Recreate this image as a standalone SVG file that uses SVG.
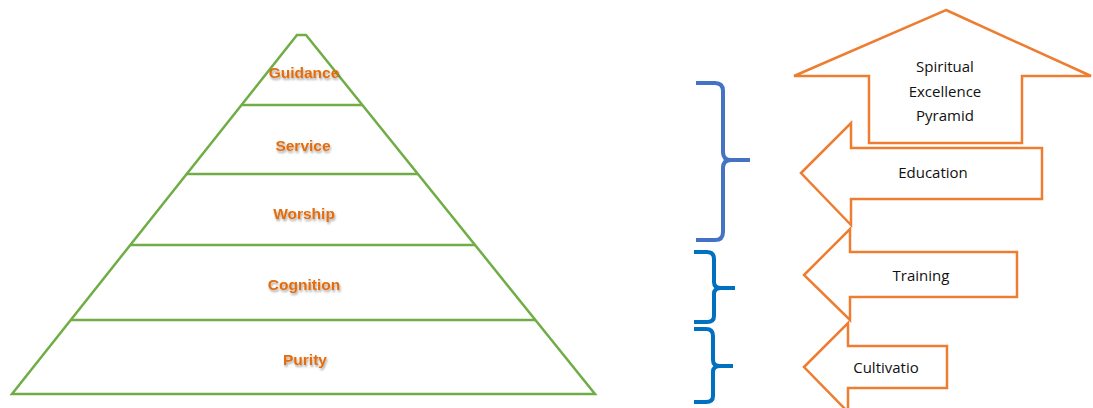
<svg xmlns="http://www.w3.org/2000/svg" width="1093" height="408" viewBox="0 0 1093 408">
<style>
.pyr{fill:none;stroke:#70AD47;stroke-width:2.5;stroke-linejoin:miter}
.lvl{font-family:"Liberation Sans",Arial,sans-serif;font-size:15.5px;font-weight:bold;fill:#E46C0A;text-anchor:middle}
.arr{fill:#fff;stroke:#ED7D31;stroke-width:2.5}
.lbl{font-family:"Open Sans","Liberation Sans",sans-serif;font-size:15px;fill:#111;text-anchor:middle}
.br{fill:none;stroke-width:4;stroke-linecap:butt;stroke-linejoin:round}
</style>
<defs>
<filter id="sh" x="-10%" y="-30%" width="120%" height="160%">
<feGaussianBlur in="SourceAlpha" stdDeviation="0.8"/>
<feOffset dx="1" dy="1.5" result="o"/>
<feFlood flood-color="#000" flood-opacity="0.35"/>
<feComposite in2="o" operator="in"/>
<feMerge><feMergeNode/><feMergeNode in="SourceGraphic"/></feMerge>
</filter>
</defs>
<g id="pyramid">
<polygon class="pyr" points="297,35 306,35 595,394 12,394"/>
<line class="pyr" x1="241" y1="105" x2="362" y2="105"/>
<line class="pyr" x1="186" y1="174" x2="418" y2="174"/>
<line class="pyr" x1="130" y1="245" x2="475" y2="245"/>
<line class="pyr" x1="71" y1="320" x2="536" y2="320"/>
</g>
<g id="levels" filter="url(#sh)">
<text class="lvl" x="304" y="78">Guidance</text>
<text class="lvl" x="303" y="151">Service</text>
<text class="lvl" x="304" y="219">Worship</text>
<text class="lvl" x="304" y="290">Cognition</text>
<text class="lvl" x="305" y="365">Purity</text>
</g>
<g id="braces">
<path class="br" stroke="#4472C4" d="M696,83 L715,83 Q723,83 723,91 L723,152 Q723,160 731,160 L750,160 M731,160 Q723,160 723,168 L723,232 Q723,240 715,240 L696,240"/>
<path class="br" stroke="#0070C0" d="M694,252 L707,252 Q714,252 714,259 L714,282 Q714,288 721,288 L735,288 M721,288 Q714,288 714,294 L714,316 Q714,322 707,322 L694,322"/>
<path class="br" stroke="#0070C0" d="M694,329 L706,329 Q713,329 713,336 L713,360 Q713,366 720,366 L733,366 M720,366 Q713,366 713,372 L713,396 Q713,402 706,402 L694,402"/>
</g>
<g id="arrow-up">
<polygon class="arr" points="946,10 1091,76 1022,76 1022,143 869,143 869,76 794,76"/>
<text class="lbl" x="945" y="72">Spiritual</text>
<text class="lbl" x="945" y="97">Excellence</text>
<text class="lbl" x="945" y="121">Pyramid</text>
</g>
<g id="arrow-education">
<polygon class="arr" points="801,173 851,123 851,148 1042,148 1042,199 851,199 851,225"/>
<text class="lbl" x="933" y="178">Education</text>
</g>
<g id="arrow-training">
<polygon class="arr" points="804,275 850,229 850,252 1017,252 1017,297 850,297 850,320"/>
<text class="lbl" x="921" y="281">Training</text>
</g>
<g id="arrow-cultivation">
<polygon class="arr" points="804,367 848,323 848,346 947,346 947,388 848,388 848,412"/>
<text class="lbl" x="886" y="373">Cultivatio</text>
</g>
</svg>
